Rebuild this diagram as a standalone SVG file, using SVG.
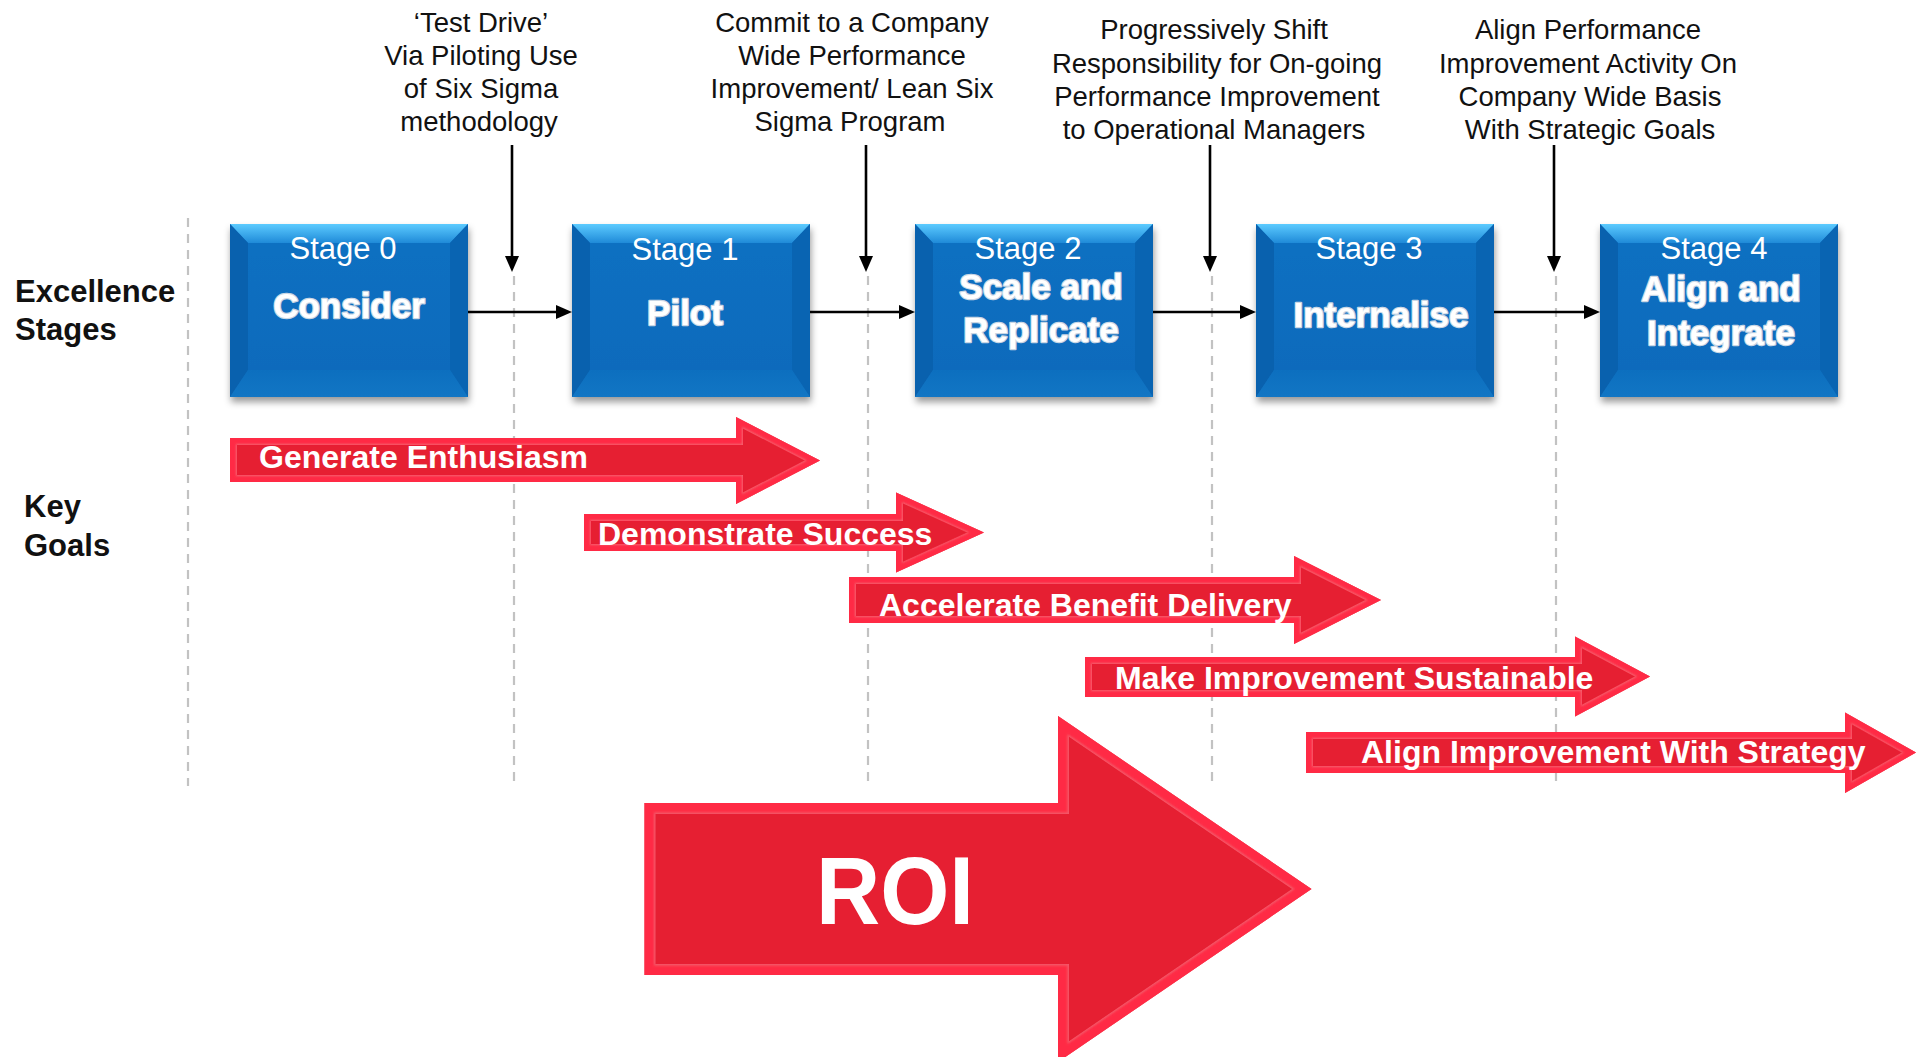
<svg xmlns="http://www.w3.org/2000/svg" xmlns:xlink="http://www.w3.org/1999/xlink" width="1925" height="1057" viewBox="0 0 1925 1057">
<style>
.note{font-family:"Liberation Sans",Arial,sans-serif;font-size:27.5px;fill:#111;text-anchor:middle}
.side{font-family:"Liberation Sans",Arial,sans-serif;font-size:31px;font-weight:bold;fill:#111}
.stg{font-family:"Liberation Sans",Arial,sans-serif;font-size:31px;fill:#fff;text-anchor:middle}
.ttl{font-family:"Liberation Sans",Arial,sans-serif;font-size:35px;font-weight:bold;fill:#fff;text-anchor:middle;stroke:#c9d6e4;stroke-width:2.4px;paint-order:stroke;stroke-linejoin:round}
.goal{font-family:"Liberation Sans",Arial,sans-serif;font-size:32px;font-weight:bold;fill:#fff}
.guide{stroke:#c2c2c2;stroke-width:2.2;stroke-dasharray:9 7;fill:none}
.conn{stroke:#000;stroke-width:2.6;fill:none}
.rfill{fill:#e61f32}
.redge{fill:none;stroke:#ff2a45;stroke-width:12}
.rhl{fill:none;stroke:#ff9aa4;stroke-width:14;stroke-opacity:.55}
</style>
<defs>
<linearGradient id="gTop" x1="0" y1="0" x2="0" y2="1">
<stop offset="0" stop-color="#5ccbff"/><stop offset="1" stop-color="#1f8ad8"/>
</linearGradient>
<linearGradient id="gFace" x1="0" y1="0" x2="0" y2="1">
<stop offset="0" stop-color="#0b70c2"/><stop offset="1" stop-color="#0a6abb"/>
</linearGradient>
<linearGradient id="gBot" x1="0" y1="0" x2="0" y2="1">
<stop offset="0" stop-color="#0c6fbf"/><stop offset="1" stop-color="#1276c4"/>
</linearGradient>
<filter id="shadow" x="-10%" y="-10%" width="125%" height="130%">
<feDropShadow dx="1" dy="5" stdDeviation="3.5" flood-color="#000" flood-opacity="0.4"/>
</filter>
<filter id="soft" x="-5%" y="-5%" width="110%" height="110%">
<feGaussianBlur stdDeviation="1"/>
</filter>
<g id="box">
<rect x="0" y="0" width="238" height="173" fill="url(#gFace)" filter="url(#shadow)"/>
<polygon points="0,0 238,0 220,19 18,19" fill="url(#gTop)"/>
<polygon points="0,0 18,19 18,146 0,173" fill="#0961ae"/>
<polygon points="238,0 220,19 220,146 238,173" fill="#0964b2"/>
<polygon points="0,173 18,146 220,146 238,173" fill="url(#gBot)"/>
</g>
<marker id="ah" viewBox="0 0 16 14" refX="10" refY="7" markerWidth="16" markerHeight="14" markerUnits="userSpaceOnUse" orient="auto">
<path d="M0,0 L16,7 L0,14 Z" fill="#000"/>
</marker>
<polygon id="p1" points="230,438 736,438 736,417 820,460.5 736,504 736,482 230,482"/>
<polygon id="p2" points="584,514 896,514 896,492.5 984,532.5 896,572.5 896,551 584,551"/>
<polygon id="p3" points="849,577 1294,577 1294,556 1381,600 1294,644 1294,623 849,623"/>
<polygon id="p4" points="1085,657 1575,657 1575,636.5 1650,676.5 1575,716.5 1575,697 1085,697"/>
<polygon id="p5" points="1306,732 1845,732 1845,712.5 1916,752.5 1845,793 1845,773 1306,773"/>
<polygon id="p6" points="644.5,803 1058,803 1058,716 1311.5,889 1058,1062 1058,975 644.5,975"/>
<clipPath id="c1"><use xlink:href="#p1"/></clipPath>
<clipPath id="c2"><use xlink:href="#p2"/></clipPath>
<clipPath id="c3"><use xlink:href="#p3"/></clipPath>
<clipPath id="c4"><use xlink:href="#p4"/></clipPath>
<clipPath id="c5"><use xlink:href="#p5"/></clipPath>
<clipPath id="c6"><use xlink:href="#p6"/></clipPath>
</defs>
<rect width="1925" height="1057" fill="#fff"/>

<g id="guides">
<line class="guide" x1="188" y1="218" x2="188" y2="786"/>
<line class="guide" x1="514" y1="276" x2="514" y2="786"/>
<line class="guide" x1="868" y1="276" x2="868" y2="786"/>
<line class="guide" x1="1212" y1="276" x2="1212" y2="786"/>
<line class="guide" x1="1556" y1="276" x2="1556" y2="786"/>
</g>

<g id="labels">
<text class="side" x="15" y="302">Excellence</text>
<text class="side" x="15" y="340">Stages</text>
<text class="side" x="24" y="517">Key</text>
<text class="side" x="24" y="556">Goals</text>
</g>

<g id="note0">
<text class="note"><tspan x="481" y="32">‘Test Drive’</tspan><tspan x="481" y="65">Via Piloting Use</tspan><tspan x="481" y="98">of Six Sigma</tspan><tspan x="479" y="131">methodology</tspan></text>
</g>
<g id="note1">
<text class="note"><tspan x="852" y="32">Commit to a Company</tspan><tspan x="852" y="65">Wide Performance</tspan><tspan x="852" y="98">Improvement/ Lean Six</tspan><tspan x="850" y="131">Sigma Program</tspan></text>
</g>
<g id="note2">
<text class="note"><tspan x="1214" y="39">Progressively Shift</tspan><tspan x="1217" y="72.5">Responsibility for On-going</tspan><tspan x="1217" y="106">Performance Improvement</tspan><tspan x="1214" y="139">to Operational Managers</tspan></text>
</g>
<g id="note3">
<text class="note"><tspan x="1588" y="39">Align Performance</tspan><tspan x="1588" y="72.5">Improvement Activity On</tspan><tspan x="1590" y="106">Company Wide Basis</tspan><tspan x="1590" y="139">With Strategic Goals</tspan></text>
</g>

<g id="stage0">
<use xlink:href="#box" x="230" y="224"/>
<text class="stg" x="343" y="259">Stage 0</text>
<text class="ttl" x="349" y="318">Consider</text>
</g>
<g id="stage1">
<use xlink:href="#box" x="572" y="224"/>
<text class="stg" x="685" y="260">Stage 1</text>
<text class="ttl" x="685" y="325">Pilot</text>
</g>
<g id="stage2">
<use xlink:href="#box" x="915" y="224"/>
<text class="stg" x="1028" y="259">Stage 2</text>
<text class="ttl" x="1041" y="299">Scale and</text>
<text class="ttl" x="1041" y="342">Replicate</text>
</g>
<g id="stage3">
<use xlink:href="#box" x="1256" y="224"/>
<text class="stg" x="1369" y="259">Stage 3</text>
<text class="ttl" x="1381" y="327">Internalise</text>
</g>
<g id="stage4">
<use xlink:href="#box" x="1600" y="224"/>
<text class="stg" x="1714" y="259">Stage 4</text>
<text class="ttl" x="1721" y="301">Align and</text>
<text class="ttl" x="1721" y="345">Integrate</text>
</g>

<g id="connectors">
<line class="conn" x1="468" y1="312" x2="566" y2="312" marker-end="url(#ah)"/>
<line class="conn" x1="810" y1="312" x2="909" y2="312" marker-end="url(#ah)"/>
<line class="conn" x1="1153" y1="312" x2="1250" y2="312" marker-end="url(#ah)"/>
<line class="conn" x1="1494" y1="312" x2="1594" y2="312" marker-end="url(#ah)"/>
<line class="conn" x1="512" y1="145" x2="512" y2="266" marker-end="url(#ah)"/>
<line class="conn" x1="866" y1="145" x2="866" y2="266" marker-end="url(#ah)"/>
<line class="conn" x1="1210" y1="145" x2="1210" y2="266" marker-end="url(#ah)"/>
<line class="conn" x1="1554" y1="145" x2="1554" y2="266" marker-end="url(#ah)"/>
</g>

<g id="goal1">
<use xlink:href="#p1" class="rfill"/>
<g clip-path="url(#c1)"><use xlink:href="#p1" class="rhl"/><use xlink:href="#p1" class="redge" filter="url(#soft)"/></g>
<text class="goal" x="259" y="468">Generate Enthusiasm</text>
</g>
<g id="goal2">
<use xlink:href="#p2" class="rfill"/>
<g clip-path="url(#c2)"><use xlink:href="#p2" class="rhl"/><use xlink:href="#p2" class="redge" filter="url(#soft)"/></g>
<text class="goal" x="598" y="545">Demonstrate Success</text>
</g>
<g id="goal3">
<use xlink:href="#p3" class="rfill"/>
<g clip-path="url(#c3)"><use xlink:href="#p3" class="rhl"/><use xlink:href="#p3" class="redge" filter="url(#soft)"/></g>
<text class="goal" x="879" y="616">Accelerate Benefit Delivery</text>
</g>
<g id="goal4">
<use xlink:href="#p4" class="rfill"/>
<g clip-path="url(#c4)"><use xlink:href="#p4" class="rhl"/><use xlink:href="#p4" class="redge" filter="url(#soft)"/></g>
<text class="goal" x="1115" y="689">Make Improvement Sustainable</text>
</g>
<g id="goal5">
<use xlink:href="#p5" class="rfill"/>
<g clip-path="url(#c5)"><use xlink:href="#p5" class="rhl"/><use xlink:href="#p5" class="redge" filter="url(#soft)"/></g>
<text class="goal" x="1361" y="763">Align Improvement With Strategy</text>
</g>
<g id="roi">
<use xlink:href="#p6" class="rfill"/>
<g clip-path="url(#c6)"><use xlink:href="#p6" fill="none" stroke="#ff9aa4" stroke-opacity=".5" stroke-width="22"/><use xlink:href="#p6" fill="none" stroke="#ff2a45" stroke-width="19" filter="url(#soft)"/></g>
<text x="895" y="924" font-family="Liberation Sans, Arial, sans-serif" font-size="96" font-weight="bold" fill="#fff" text-anchor="middle" textLength="158" lengthAdjust="spacingAndGlyphs">ROI</text>
</g>
</svg>
